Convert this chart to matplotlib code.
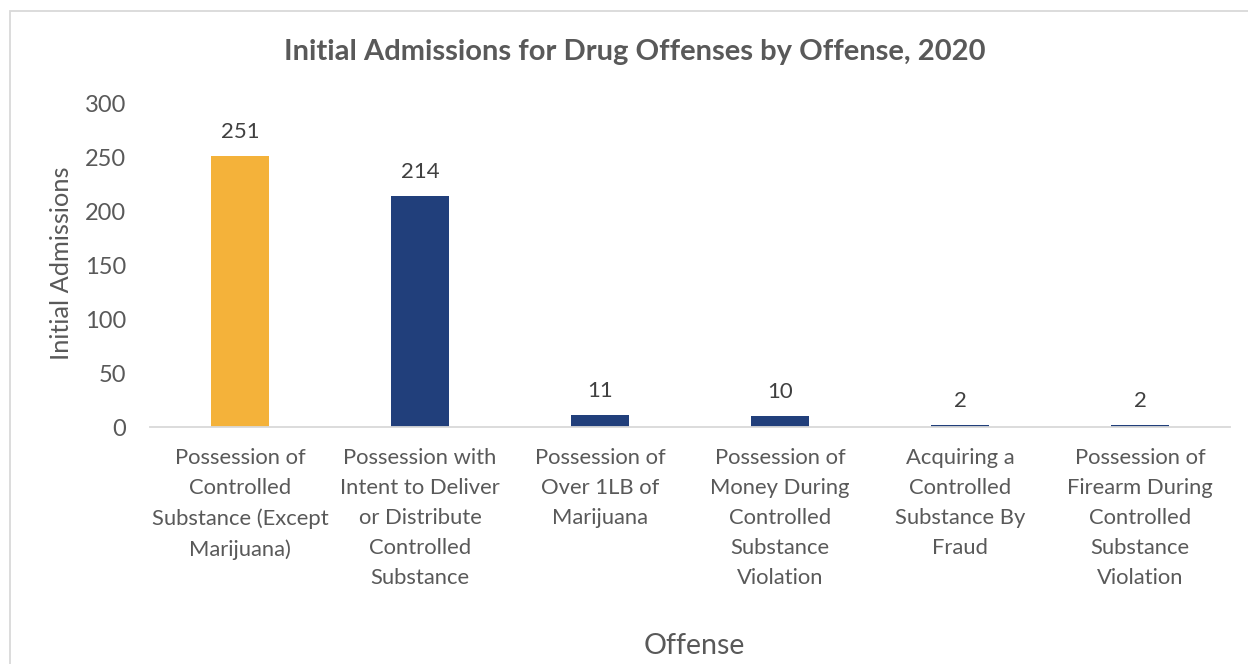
import matplotlib.pyplot as plt
from matplotlib.patches import Rectangle

plt.rcParams['font.family'] = ['Lato', 'DejaVu Sans']

offenses = [
    'Possession of\nControlled\nSubstance (Except\nMarijuana)',
    'Possession with\nIntent to Deliver\nor Distribute\nControlled\nSubstance',
    'Possession of\nOver 1LB of\nMarijuana',
    'Possession of\nMoney During\nControlled\nSubstance\nViolation',
    'Acquiring a\nControlled\nSubstance By\nFraud',
    'Possession of\nFirearm During\nControlled\nSubstance\nViolation',
]
admissions = [251, 214, 11, 10, 2, 2]
bar_colors = ['#F4B23A', '#213F7B', '#213F7B', '#213F7B', '#213F7B', '#213F7B']
yticks = [0, 50, 100, 150, 200, 250, 300]

text_gray = '#595959'

fig = plt.figure(figsize=(12.48, 6.64), dpi=100)
fig.patch.set_facecolor('white')

# chart frame
fig.patches.append(Rectangle((10 / 1248, -0.1), 1.2, 1.1 - 11 / 664,
                             transform=fig.transFigure, fill=False,
                             edgecolor='#d9d9d9', linewidth=1.3))

ax = fig.add_axes([150 / 1248, 1 - 427 / 664, 1080 / 1248, 324 / 664])
x = list(range(len(offenses)))
bars = ax.bar(x, admissions, width=0.32, color=bar_colors)

for rect, val in zip(bars, admissions):
    ax.annotate(str(val), (rect.get_x() + rect.get_width() / 2, val),
                xytext=(0, 10), textcoords='offset points',
                ha='center', va='bottom', fontsize=16, color='#404040')

ax.set_xlim(-0.5, len(offenses) - 0.5)
ax.set_ylim(0, 300)
ax.set_yticks(yticks)
ax.set_yticklabels([str(t) for t in yticks], fontsize=17, color=text_gray)
ax.set_xticks(x)
ax.set_xticklabels(offenses, fontsize=15.8, color=text_gray, linespacing=1.63)
ax.tick_params(axis='both', length=0)
ax.tick_params(axis='y', pad=17)
ax.tick_params(axis='x', pad=15)

for side in ['top', 'right', 'left']:
    ax.spines[side].set_visible(False)
ax.spines['bottom'].set_color('#d9d9d9')
ax.spines['bottom'].set_linewidth(1.3)

fig.text(635 / 1248, 1 - 52 / 664,
         'Initial Admissions for Drug Offenses by Offense, 2020',
         ha='center', va='center', fontsize=21, fontweight='bold', color=text_gray)
fig.text(62 / 1248, 1 - 263 / 664, 'Initial Admissions', rotation=90,
         ha='center', va='center', fontsize=18.3, color=text_gray)
fig.text(694 / 1248, 1 - 646 / 664, 'Offense',
         ha='center', va='center', fontsize=20.6, color=text_gray)

fig.savefig('out.png', dpi=100)
